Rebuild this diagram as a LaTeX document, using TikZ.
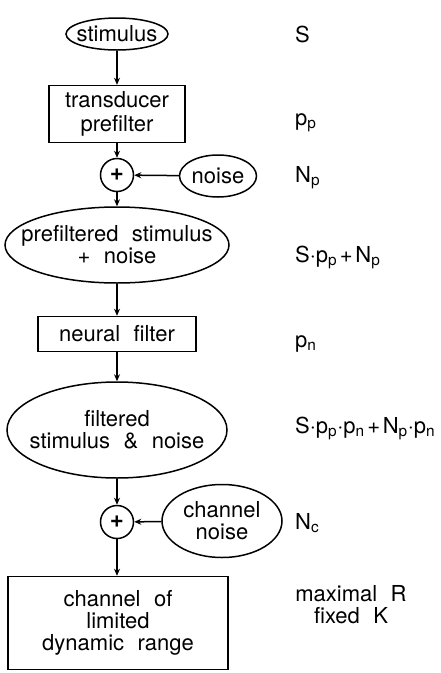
\documentclass[tikz,border=0pt]{standalone}
\usepackage{fontspec}
\setmainfont[WordSpace=2.2]{TeX Gyre Heros}
\usetikzlibrary{arrows.meta,shapes.geometric}
\newcommand{\fsz}{\fontsize{22}{22}\selectfont}
\newcommand{\ps}{\hspace{0.12em}}
\tikzset{
  ell/.style={ellipse, draw, line width=1.5pt, inner sep=0pt},
  boxnode/.style={rectangle, draw, line width=1.5pt, inner sep=0pt, align=center},
  sumnode/.style={circle, draw, line width=1.5pt, inner sep=0pt, minimum size=33pt},
  txt/.style={align=center, inner sep=0pt, font=\fsz},
  lab/.style={anchor=base west, inner sep=0pt, font=\fsz},
  flow/.style={line width=1.5pt, -{Stealth[length=7pt,width=6pt]}},
}
\begin{document}
\begin{tikzpicture}[x=1pt,y=1pt]
\useasboundingbox (0,0) rectangle (440,-673);
% main chain
\node[ell, minimum width=102pt, minimum height=32pt] (stim) at (117,-34) {};
\node[txt] (stimt) at (stim) {stimulus};
\node[boxnode, minimum width=136pt, minimum height=57pt, font=\fontsize{22}{24}\selectfont] (trans) at (117,-114) {transducer\\prefilter};
\node[sumnode, font=\fontsize{24}{24}\selectfont\bfseries] (sum1) at (117,-175) {+};
\node[ell, minimum width=77pt, minimum height=42pt] (noise) at (218,-176) {};
\node[txt] (noiset) at (noise) {noise};
\node[ell, minimum width=224pt, minimum height=76pt] (pre) at (117,-245) {};
\node[txt] (pret) at (pre) {prefiltered stimulus\\+ noise};
\node[boxnode, minimum width=158pt, minimum height=35pt, font=\fsz] (neural) at (117,-334) {neural filter};
\node[ell, minimum width=220pt, minimum height=96pt] (filt) at (117,-430) {};
\node[txt] (filtt) at (filt) {filtered\\stimulus \& noise};
\node[sumnode, font=\fontsize{24}{24}\selectfont\bfseries] (sum2) at (117,-522) {+};
\node[ell, minimum width=120pt, minimum height=73pt] (cnoise) at (222,-521) {};
\node[txt] (cnoiset) at (cnoise) {channel\\noise};
\node[boxnode, minimum width=220pt, minimum height=93pt, font=\fsz] (chan) at (118,-623) {channel of\\limited\\dynamic range};
% connectors
\draw[flow] (stim) -- (trans);
\draw[flow] (trans) -- (sum1);
\draw[flow] (noise) -- (sum1);
\draw[flow] (sum1) -- (pre);
\draw[flow] (pre) -- (neural);
\draw[flow] (neural) -- (filt);
\draw[flow] (filt) -- (sum2);
\draw[flow] (cnoise) -- (sum2);
\draw[flow] (sum2) -- (sum2 |- chan.north);
% labels
\node[lab] (l1) at (295,-42) {S};
\node[lab] (l2) at (295,-125) {p\textsubscript{p}};
\node[lab] (l3) at (295,-182) {N\textsubscript{p}};
\node[lab] (l4) at (295,-262) {S·p\textsubscript{p}\ps+\ps N\textsubscript{p}};
\node[lab] (l5) at (295,-347) {p\textsubscript{n}};
\node[lab] (l6) at (295,-433) {S·p\textsubscript{p}·p\textsubscript{n}\ps+\ps N\textsubscript{p}·p\textsubscript{n}};
\node[lab] (l7) at (295,-529) {N\textsubscript{c}};
\node[txt, anchor=base] (l8) at (351,-623) {maximal R\\fixed K};
\end{tikzpicture}
\end{document}
